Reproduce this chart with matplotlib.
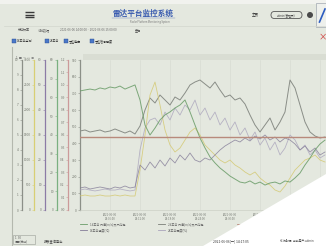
import matplotlib.pyplot as plt
from matplotlib.patches import Polygon, Rectangle, FancyBboxPatch, Circle
from matplotlib.ticker import MultipleLocator

plt.rcParams['font.family'] = ['Noto Sans CJK SC', 'DejaVu Sans']

# one sample per minute from 14:00
minutes = list(range(50))
tick_minutes = [6, 12, 18, 24, 30, 36, 42, 48]
tick_labels = ['2021-06-06\n14:06:00', '2021-06-06\n14:12:00', '2021-06-06\n14:18:00',
               '2021-06-06\n14:24:00', '2021-06-06\n14:30:00', '2021-06-06\n14:36:00',
               '2021-06-06\n14:42:00', '2021-06-06\n14:48:00']

# green axis (0-80)
wind_speed = [63.5, 64.0, 64.5, 64.0, 65.1, 64.5, 65.6, 65.1, 66.1, 64.5, 65.6, 66.7,
              58.7, 45.3, 40.0, 43.7, 48.0, 50.7, 52.3, 54.4, 56.0, 58.7,
              52.3, 45.3, 38.4, 33.1, 28.3, 25.1, 22.4, 20.3, 18.1, 16.5,
              14.9, 14.4, 15.5, 13.9, 14.9, 13.3, 14.4, 14.9, 13.9, 15.5,
              14.9, 17.1, 19.7, 24.0, 27.7, 32.0, 35.2, 37.3]
# main axis (0-900)
radar_power = [474, 480, 468, 474, 480, 468, 474, 486, 474, 462, 474, 456,
               504, 600, 672, 642, 690, 660, 630, 678, 660, 702,
               750, 768, 780, 756, 732, 768, 720, 678, 690, 660,
               672, 636, 570, 510, 468, 510, 552, 480, 528, 588,
               780, 732, 630, 528, 468, 444, 432, 438]
# purple axis (0-60)
temperature = [8.8, 9.2, 8.4, 8.8, 9.2, 8.8, 8.4, 9.2, 8.8, 9.6, 8.8, 9.2,
               18.0, 16.0, 19.2, 16.8, 20.0, 17.6, 20.8, 18.8, 22.0, 20.0,
               22.8, 20.0, 19.2, 20.8, 20.0, 22.0, 24.0, 25.6, 26.8, 28.0,
               27.2, 28.8, 27.6, 29.6, 28.4, 30.0, 28.0, 29.2, 27.2, 28.8,
               28.0, 26.4, 24.0, 25.6, 23.2, 24.8, 22.0, 23.2]
# yellow axis (0-3000)
signal = [280, 300, 280, 280, 300, 280, 280, 300, 280, 300, 280, 280,
          800, 1500, 2300, 2560, 2100, 1600, 1300, 1160, 1240, 1400,
          1560, 1640, 1500, 1300, 1200, 1100, 1000, 940, 1000, 900,
          840, 760, 700, 760, 640, 560, 500, 400, 360, 480,
          640, 800, 900, 1000, 1040, 1100, 1000, 960]
# gray axis (0-10)
humidity = [1.33, 1.40, 1.33, 1.27, 1.33, 1.40, 1.33, 1.33, 1.40, 1.33, 1.27, 1.33,
            4.0, 5.47, 6.0, 6.13, 5.67, 6.53, 6.0, 6.8, 6.33, 7.0,
            6.67, 7.33, 6.33, 6.8, 6.0, 6.53, 5.67, 6.13, 5.33, 5.87,
            5.0, 5.47, 4.67, 5.2, 4.33, 4.8, 4.0, 4.53, 3.67, 4.13,
            5.0, 4.67, 4.0, 4.33, 3.67, 4.0, 3.47, 3.67]
# red axis (0-1.2)
voltage = 0.58

legend_names = ['1#平台 风速(m/s)及风向角', '1#平台温度(℃)', '2#平台 风速(m/s)及风向角',
                '2#平台湿度(%)', '雷达电压(V)', '雷达信号强度(dBm)']

bg_col = '#e4e8df'
txt_col = '#74786f'

fig = plt.figure(figsize=(3.26, 2.46), dpi=100)
fig.patch.set_facecolor(bg_col)

# page around the chart, pixel coordinates
bg = fig.add_axes([0, 0, 1, 1])
bg.set_xlim(0, 326)
bg.set_ylim(246, 0)
bg.axis('off')
bg.add_patch(Rectangle((0, 0), 326, 4, fc='#f1f2ee', ec='none'))
bg.plot([4, 326], [26, 26], color='#d2d6cd', lw=0.5)
bg.plot([12, 12], [47, 246], color='#b4b8ae', lw=0.8)
for y in (12, 14.7, 17.4):
    bg.plot([25, 34], [y, y], color='#3a3a3a', lw=1.0, solid_capstyle='butt')
bg.text(143, 13, '雷达平台监控系统', color='#3a5cb0', fontsize=5.5, fontweight='bold',
        ha='center', va='center')
bg.plot([112, 175], [18, 18], color='#6a80c0', lw=0.3)
bg.text(150, 21.5, 'Radar Platform Monitoring System', color='#777', fontsize=1.8,
        ha='center', va='center')
bg.text(255, 15, '主页', color='#333', fontsize=2.5, ha='center', va='center')
bg.add_patch(FancyBboxPatch((271, 11.5), 31, 7, boxstyle='round,pad=0,rounding_size=3.5',
                            fc='none', ec='#555', lw=0.6))
bg.text(286.5, 15, 'admin(管理员)', color='#444', fontsize=2, ha='center', va='center')
bg.add_patch(Circle((310, 15), 3, fc='#4a4a4a', ec='none'))
bg.add_patch(Rectangle((316, 3), 14, 24, fc='#eef0ec', ec='#a0a8b0', lw=0.5))
bg.plot([319.5, 325], [22, 9], color='#2c5cc0', lw=1.2)
bg.text(323, 37, '×', color='#d03030', fontsize=6, ha='center', va='center')

bg.text(18, 30, '采样频率', color='#555', fontsize=2.2, va='center')
bg.text(38, 30, '小时数据', color='#555', fontsize=2.2, va='center')
bg.text(60, 30, '2021-06-06 14:00:00 ~ 2021-06-06 15:00:00', color='#666', fontsize=2.1,
        va='center')
bg.text(135, 30, '查询', color='#444', fontsize=2.2, va='center')

checks = [(14, '1#平台监测'), (47, '2#平台'), (66, '雷达电压'), (92, '雷达信号强度')]
for x, name in checks:
    bg.add_patch(Rectangle((x - 2, 39), 4, 4, fc='#4a78c8', ec='#2a4c90', lw=0.3))
    bg.text(x + 3, 41, name, color='#333', fontsize=2.2, va='center')

bg.text(16, 58, '1  图  —  ⋯  ⊞', color='#666', fontsize=2.2, va='center')
bg.add_patch(Rectangle((83, 54), 243, 6, fc='#d9ddd3', ec='none'))

bg.add_patch(Rectangle((13, 235), 22, 9, fc='none', ec='#9a9e96', lw=0.4))
bg.text(15, 238, '1  30', color='#555', fontsize=2, va='center')
bg.text(15, 242, '间隔(分钟)', color='#555', fontsize=2, va='center')
bg.text(44, 241, '报表查询导出', color='#444', fontsize=2.3, va='center')

# chart
ax = fig.add_axes([80 / 326, 36 / 246, 246 / 326, 150 / 246])
ax.patch.set_alpha(0)
ax.set_xlim(0, 49.2)
ax.set_ylim(0, 900)
ax.yaxis.set_major_locator(MultipleLocator(100))
ax.set_xticks(tick_minutes, tick_labels)
ax.grid(axis='x', color='#d5d9cf', lw=0.4)
ax.spines['top'].set_visible(False)
ax.spines['right'].set_visible(False)
ax.spines['left'].set_color('#8c9088')
ax.spines['left'].set_linewidth(0.9)
ax.spines['bottom'].set_color('#ccd0c6')
ax.spines['bottom'].set_linewidth(0.5)
ax.tick_params(axis='y', length=1.5, width=0.4, color='#8c9088', labelsize=2.3,
               labelcolor=txt_col, pad=0.8)
ax.tick_params(axis='x', length=0, labelsize=2.0, labelcolor='#7a7e76', pad=2)


def side_axis(pos, color, lo, hi, step):
    a = ax.twinx()
    a.yaxis.tick_left()
    a.spines['left'].set_visible(True)
    a.spines['left'].set_position(('axes', pos))
    a.spines['left'].set_color(color)
    a.spines['left'].set_linewidth(0.9)
    for s in ('right', 'top', 'bottom'):
        a.spines[s].set_visible(False)
    a.set_ylim(lo, hi)
    a.yaxis.set_major_locator(MultipleLocator(step))
    a.tick_params(axis='y', length=1.5, width=0.4, color=color, labelsize=2.3,
                  labelcolor=txt_col, pad=0.8)
    return a


ax_gray = side_axis(-0.236, '#8c9088', 0, 10, 1)
ax_yellow = side_axis(-0.187, '#d8cf74', 0, 3000, 500)
ax_purple = side_axis(-0.142, '#8c7ca6', 0, 60, 10)
ax_green = side_axis(-0.0935, '#7ab080', 0, 80, 10)
ax_red = side_axis(-0.0488, '#cc9a9a', 0, 1.2, 0.1)

l1, = ax_green.plot(minutes, wind_speed, color='#6a9c68', lw=0.7, alpha=0.85)
l2, = ax_purple.plot(minutes, temperature, color='#847c98', lw=0.6, alpha=0.8)
l3, = ax.plot(minutes, radar_power, color='#7a7e78', lw=0.7, alpha=0.85)
l4, = ax_gray.plot(minutes, humidity, color='#aaa4bc', lw=0.6, alpha=0.8)
l5 = ax_red.axhline(voltage, color='#b88a7c', lw=1.0)
l6, = ax_yellow.plot(minutes, signal, color='#d4c972', lw=0.6, alpha=0.85)

# legend, three columns by two rows
spots = [(80, 224), (80, 230), (158, 224), (158, 230), (237, 224), (237, 230)]
for (x, y), line, name in zip(spots, [l1, l2, l3, l4, l5, l6], legend_names):
    bg.plot([x, x + 7], [y, y], color=line.get_color(), lw=0.6)
    bg.text(x + 10, y, name, color='#666', fontsize=2.2, va='center')

# photo corner on top
top = fig.add_axes([0, 0, 1, 1])
top.set_zorder(5)
top.set_xlim(0, 326)
top.set_ylim(246, 0)
top.axis('off')
top.add_patch(Polygon([(203, 246), (326, 174), (326, 246)], fc='white', ec='none'))
top.text(213, 241, '2021-06-06[一] 14:17:05', color='#333', fontsize=2.4, va='center')
top.text(280, 241, '系统时间  当前用户:admin', color='#444', fontsize=2.1, va='center')

fig.savefig('out.png', dpi=100, facecolor=fig.get_facecolor())
